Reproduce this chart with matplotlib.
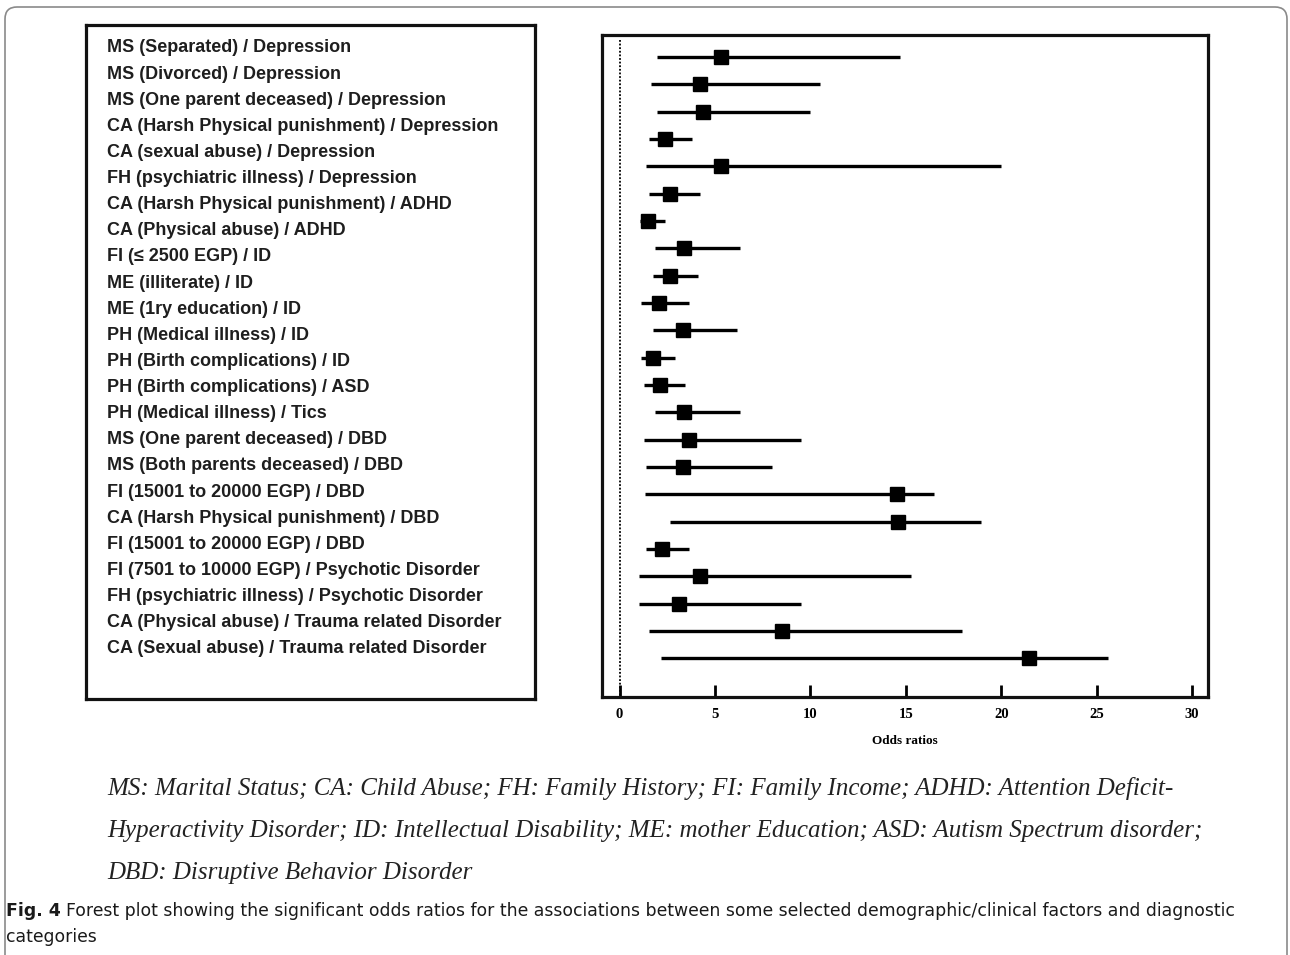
import matplotlib
matplotlib.use("Agg")
import matplotlib.pyplot as plt
from matplotlib.patches import FancyBboxPatch
import numpy as np

# factor / diagnosis pairs listed in the key box
labels = [
    "MS (Separated) / Depression",
    "MS (Divorced) / Depression",
    "MS (One parent deceased) / Depression",
    "CA (Harsh Physical punishment) / Depression",
    "CA (sexual abuse) / Depression",
    "FH (psychiatric illness) / Depression",
    "CA (Harsh Physical punishment) / ADHD",
    "CA (Physical abuse) / ADHD",
    "FI (\u2264 2500 EGP) / ID",
    "ME (illiterate) / ID",
    "ME (1ry education) / ID",
    "PH (Medical illness) / ID",
    "PH (Birth complications) / ID",
    "PH (Birth complications) / ASD",
    "PH (Medical illness) / Tics",
    "MS (One parent deceased) / DBD",
    "MS (Both parents deceased) / DBD",
    "FI (15001 to 20000 EGP) / DBD",
    "CA (Harsh Physical punishment) / DBD",
    "FI (15001 to 20000 EGP) / DBD",
    "FI (7501 to 10000 EGP) / Psychotic Disorder",
    "FH (psychiatric illness) / Psychotic Disorder",
    "CA (Physical abuse) / Trauma related Disorder",
    "CA (Sexual abuse) / Trauma related Disorder",
]

# odds ratios with 95% CI, top to bottom
odds = [5.3, 4.2, 4.35, 2.4, 5.3, 2.65, 1.5, 3.4, 2.65, 2.05, 3.3, 1.75, 2.1,
        3.4, 3.65, 3.3, 14.55, 14.6, 2.2, 4.2, 3.1, 8.5, 21.45]
lower = [1.95, 1.65, 1.95, 1.55, 1.4, 1.55, 1.05, 1.85, 1.75, 1.1, 1.75, 1.1, 1.3,
         1.85, 1.3, 1.4, 1.35, 2.65, 1.4, 1.0, 1.0, 1.55, 2.15]
upper = [14.7, 10.5, 10.0, 3.8, 20.0, 4.2, 2.4, 6.3, 4.1, 3.65, 6.15, 2.9, 3.45,
         6.3, 9.5, 8.0, 16.45, 18.95, 3.65, 15.25, 9.5, 17.95, 25.6]

xticks = [0, 5, 10, 15, 20, 25, 30]

abbrev_lines = [
    "MS: Marital Status; CA: Child Abuse; FH: Family History; FI: Family Income; ADHD: Attention Deficit-",
    "Hyperactivity Disorder; ID: Intellectual Disability; ME: mother Education; ASD: Autism Spectrum disorder;",
    "DBD: Disruptive Behavior Disorder",
]
fig_label = "Fig. 4"
caption = ("Forest plot showing the significant odds ratios for the associations between "
           "some selected demographic/clinical factors and diagnostic")
caption2 = "categories"

W, H = 1290, 955
fig = plt.figure(figsize=(W / 100, H / 100), dpi=100)
fig.patch.set_facecolor("white")


def box(x0, y0, x1, y1):
    # pixel box (top-left origin) -> figure fraction rect
    return [x0 / W, 1 - y1 / H, (x1 - x0) / W, (y1 - y0) / H]


# outer rounded frame of the figure panel
frame = FancyBboxPatch((0.05, -0.3), 12.82, 9.78, boxstyle="round,pad=0,rounding_size=0.12",
                       transform=fig.dpi_scale_trans, fill=False, ec="#8a8a8a", lw=1.2)
fig.patches.append(frame)

# ---- key box with the labels ----
axk = fig.add_axes(box(86, 25, 535, 699))
n_lab = len(labels)
axk.set_xlim(0, 1)
axk.set_ylim(n_lab - 1 + 1.92, -0.88)
for i, lab in enumerate(labels):
    axk.text(0.047, i, lab, va="center", ha="left", fontsize=13,
             family="Liberation Sans", weight="bold", color="#1e1e1e")
axk.set_xticks([])
axk.set_yticks([])
for s in axk.spines.values():
    s.set_linewidth(2.3)
    s.set_color("#111111")

# ---- forest plot ----
ax = fig.add_axes(box(602, 35, 1208, 697))
rows = np.arange(1, len(odds) + 1)
ax.hlines(rows, lower, upper, color="black", lw=2.4)
ax.plot(odds, rows, "s", color="black", ms=10.5)
ax.plot([0, 0], [0.38, 24.5], color="black", lw=1.3, ls=(0, (1, 1)))

ax.set_xlim(-0.92, 30.83)
ax.set_ylim(24.42, 0.2)
ax.set_xticks(xticks)
ax.set_xticklabels([str(t) for t in xticks], family="Liberation Serif",
                   weight="bold", fontsize=10.5)
ax.set_yticks([])
ax.tick_params(axis="x", direction="in", length=9, width=2, pad=8)
ax.set_xlabel("Odds ratios", family="Liberation Serif", weight="bold",
              fontsize=9.5, labelpad=10)
for s in ax.spines.values():
    s.set_linewidth(2.3)
    s.set_color("#111111")

# ---- abbreviation key ----
for i, line in enumerate(abbrev_lines):
    fig.text(107 / W, 1 - (788 + 42.5 * i) / H, line, ha="left", va="center",
             family="Liberation Serif", style="italic", fontsize=18, color="#222222")

# ---- figure caption ----
fig.text(6 / W, 1 - 911 / H, fig_label, ha="left", va="center",
         family="DejaVu Sans", weight="bold", fontsize=12.4, color="#1a1a1a")
fig.text(66 / W, 1 - 911 / H, caption, ha="left", va="center",
         family="DejaVu Sans", fontsize=12.4, color="#1a1a1a")
fig.text(6 / W, 1 - 937 / H, caption2, ha="left", va="center",
         family="DejaVu Sans", fontsize=12.4, color="#1a1a1a")

fig.savefig("out.png", dpi=100)
